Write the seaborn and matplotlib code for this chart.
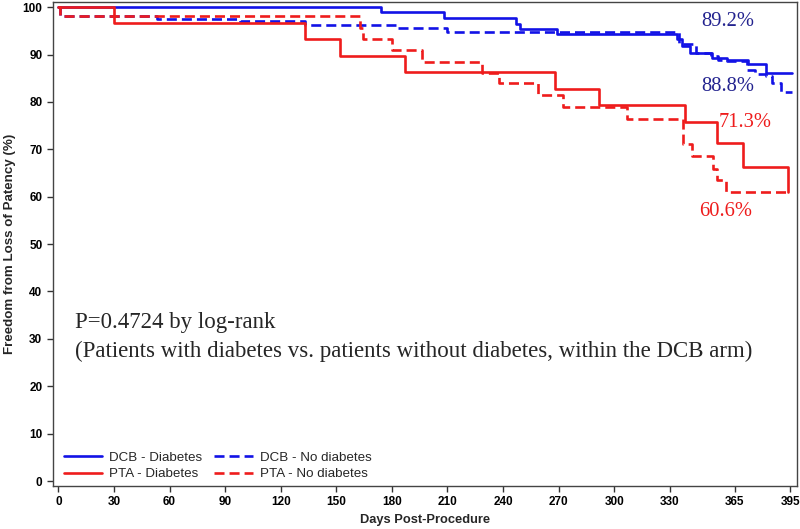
import pandas as pd
import matplotlib
matplotlib.use('Agg')
import matplotlib.pyplot as plt
import seaborn as sns

# %%
# step points (day, freedom from loss of patency %)
dcb_diab_days = [0, 174, 208, 247, 249, 269, 334, 336.5, 341, 352.7, 361, 372, 382, 396]
dcb_diab_pct = [100, 99.0, 97.8, 96.5, 95.3, 94.3, 93.2, 91.8, 90.4, 89.3, 88.8, 88.0, 86.2, 86.2]

dcb_nodiab_days = [0, 1, 53, 98, 133, 182, 210, 335, 344, 352, 356, 361, 371.6, 376, 382, 385, 390, 396]
dcb_nodiab_pct = [100, 98.1, 97.5, 97.0, 96.2, 95.5, 94.8, 92.2, 90.4, 89.6, 88.9, 88.7, 86.7, 86.0, 85.4, 83.9, 82.2, 82.2]

pta_diab_days = [0, 30, 133, 152, 187, 268, 292, 338.4, 355.4, 369.5, 393.6, 394]
pta_diab_pct = [100, 96.7, 93.2, 89.7, 86.4, 82.8, 79.3, 75.8, 71.4, 66.3, 61.0, 61.0]

pta_nodiab_days = [0, 1, 162.6, 164.6, 180, 196, 228.6, 237.7, 259, 272.5, 307, 337, 342, 353.3, 355.4, 360.5, 393.6]
pta_nodiab_pct = [100, 98.1, 95.5, 93.2, 90.9, 88.4, 86.1, 83.9, 81.4, 78.9, 76.5, 71.2, 68.6, 65.8, 63.5, 61.0, 61.0]

x_ticks = [0, 30, 60, 90, 120, 150, 180, 210, 240, 270, 300, 330, 365, 395]

label_texts = ['89.2%', '88.8%', '71.3%', '60.6%']

# %%
sns.set_style('ticks')
plt.rcParams['font.family'] = ['Liberation Sans', 'DejaVu Sans']

blue = '#1212e6'
red = '#ee1c1c'

fig = plt.figure(figsize=(8, 5.29), dpi=100)
ax = fig.add_axes([0.066, 0.0813, 0.93, 0.915])

series = [
    (dcb_diab_days, dcb_diab_pct, 'DCB - Diabetes', blue, '-'),
    (dcb_nodiab_days, dcb_nodiab_pct, 'DCB - No diabetes', blue, '--'),
    (pta_nodiab_days, pta_nodiab_pct, 'PTA - No diabetes', red, '--'),
    (pta_diab_days, pta_diab_pct, 'PTA - Diabetes', red, '-'),
]

for days, pct, name, col, ls in series:
    df = pd.DataFrame({'day': days, 'pct': pct})
    sns.lineplot(data=df, x='day', y='pct', ax=ax, color=col, linestyle=ls,
                 linewidth=1.9, drawstyle='steps-post', estimator=None,
                 sort=False, label=name)

for l in ax.get_lines():
    if l.get_linestyle() == '--':
        l.set_dashes([3.8, 1.9])

handles, labels = ax.get_legend_handles_labels()
order = ['DCB - Diabetes', 'PTA - Diabetes', 'DCB - No diabetes', 'PTA - No diabetes']
hmap = dict(zip(labels, handles))
ax.legend([hmap[k] for k in order], order, ncol=2, loc='lower left',
          frameon=False, fontsize=9.6, handlelength=2.9, handletextpad=0.5,
          columnspacing=0.9, labelspacing=0.3, borderaxespad=0.2,
          bbox_to_anchor=(0.004, -0.005))

serif = ['Liberation Serif', 'DejaVu Serif']
ax.text(9, 33.5, 'P=0.4724 by log-rank', family=serif, fontsize=16.5,
        va='center', ha='left')
ax.text(9, 27.4, '(Patients with diabetes vs. patients without diabetes, within the DCB arm)',
        family=serif, fontsize=16.5, va='center', ha='left')

navy = '#23238f'
ax.text(361, 96.9, label_texts[0], family=serif, fontsize=14.8, color=navy, ha='center', va='center')
ax.text(361, 83.3, label_texts[1], family=serif, fontsize=14.8, color=navy, ha='center', va='center')
ax.text(370.7, 75.6, label_texts[2], family=serif, fontsize=14.8, color=red, ha='center', va='center')
ax.text(360, 56.8, label_texts[3], family=serif, fontsize=14.8, color=red, ha='center', va='center')

ax.set_xlim(-3, 398.5)
ax.set_ylim(-1.05, 101.1)
ax.set_xticks(x_ticks)
ax.set_yticks(range(0, 101, 10))
ax.tick_params(axis='both', labelsize=8.5, direction='out', length=4, width=1, colors='#333333')
for lab in ax.get_xticklabels() + ax.get_yticklabels():
    lab.set_fontweight('bold')
    lab.set_color('black')
for sp in ax.spines.values():
    sp.set_visible(True)
    sp.set_color('#444444')
    sp.set_linewidth(1)

ax.set_xlabel('Days Post-Procedure', fontsize=9.3, fontweight='bold', labelpad=4)
ax.set_ylabel('Freedom from Loss of Patency (%)', fontsize=9.6, fontweight='bold', labelpad=5)

fig.savefig('out.png', dpi=100)
